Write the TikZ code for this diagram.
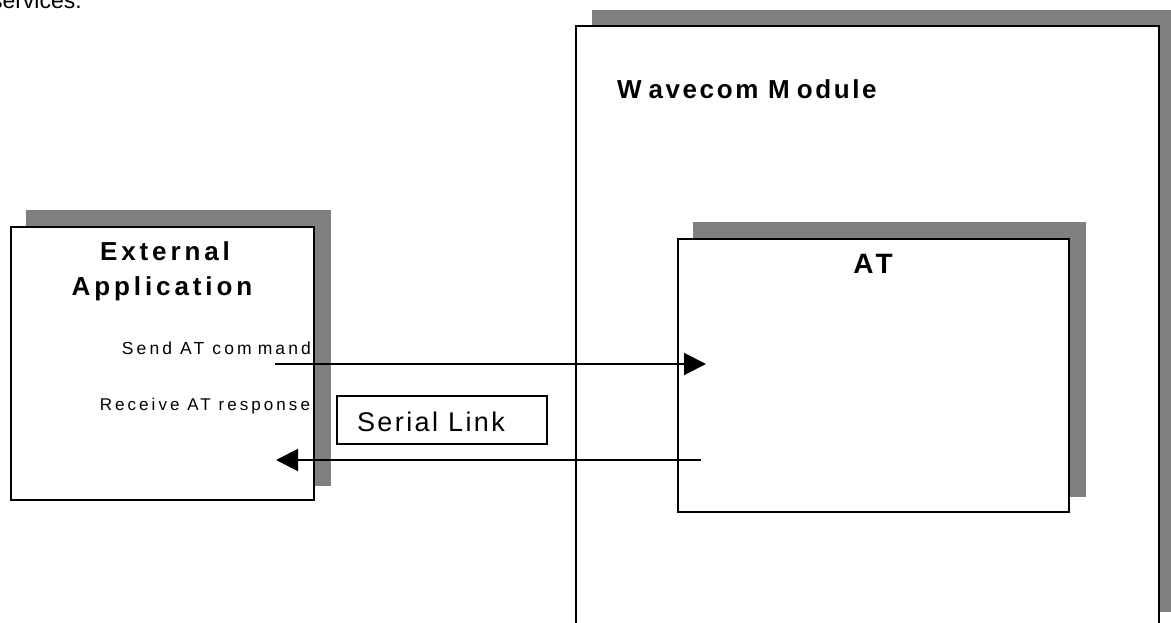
\documentclass[tikz,border=0pt]{standalone}
\usepackage{fontspec}
\setmainfont{Liberation Sans}
\newfontfamily\spbold{Liberation Sans}[LetterSpace=15]
\newfontfamily\spboldb{Liberation Sans}[LetterSpace=10]
\newfontfamily\spreg{Liberation Sans}[LetterSpace=18]
\newfontfamily\spser{Liberation Sans}[LetterSpace=9]
\usetikzlibrary{arrows.meta}
\definecolor{shadowgray}{RGB}{128,128,128}
\begin{document}
\begin{tikzpicture}[x=1pt,y=-1pt,
  shadowbox/.style={fill=shadowgray, draw=none, inner sep=0pt, outer sep=0pt, anchor=center},
  mainbox/.style={fill=white, draw=black, line width=2pt, inner sep=0pt, outer sep=0pt, anchor=center},
  linkbox/.style={fill=white, draw=black, line width=1.5pt, inner sep=0pt, outer sep=0pt, anchor=center},
  conn/.style={line width=2pt, -{Triangle[length=22pt,width=22pt]}},
  lbl/.style={inner sep=0pt, outer sep=0pt},
  titletext/.style={lbl, font=\spbold\bfseries\fontsize{26}{30}\selectfont},
  smalltext/.style={lbl, font=\spreg\fontsize{17}{20}\selectfont},
]
\useasboundingbox (0,0) rectangle (1171,622);
\clip (0,0) rectangle (1171,622);
\fill[white] (0,0) rectangle (1171,622);

% cut-off text at the top
\node[lbl, anchor=base west, font=\fontsize{23}{27}\selectfont] (prev) at (-9,8) {services.};

% Wavecom module
\node[shadowbox, minimum width=583pt, minimum height=602pt] (wmshadow) at (883.5,311) {};
\node[mainbox, minimum width=583pt, minimum height=602pt] (wm) at (867.5,327) {};
\node[lbl, anchor=base west, font=\spboldb\bfseries\fontsize{26}{30}\selectfont] (wmtext) at (617,98) {W\kern7pt avecom M\kern7pt odule};

% AT box
\node[shadowbox, minimum width=393pt, minimum height=275pt] (atshadow) at (889.5,359.5) {};
\node[mainbox, minimum width=391pt, minimum height=273pt] (at) at (873.5,375.5) {};
\node[lbl, anchor=base, font=\spbold\bfseries\fontsize{28}{32}\selectfont] (attext) at (873,273) {AT};

% External application
\node[shadowbox, minimum width=305pt, minimum height=276pt] (extshadow) at (178,348) {};
\node[mainbox, minimum width=303pt, minimum height=273pt] (ext) at (162.5,363.5) {};
\node[titletext, anchor=base] (ext1) at (165,260) {External};
\node[titletext, anchor=base] (ext2) at (162,295) {Application};
\node[lbl, anchor=base east, font=\spreg\fontsize{17.5}{20}\selectfont] (send) at (311,354) {Send AT com\kern6pt mand};
\node[smalltext, anchor=base east] (recv) at (310,410) {Receive AT response};

% Serial link
\node[linkbox, minimum width=210pt, minimum height=48pt] (link) at (442,420) {};
\node[lbl, anchor=base west, font=\spser\fontsize{27}{31}\selectfont] (linktext) at (357,431) {Serial Link};

% connectors
\coordinate (s1) at (275,364);
\coordinate (e1) at (706,364);
\coordinate (s2) at (701,460);
\coordinate (e2) at (276,460);
\draw[conn] (s1) -- (e1);
\draw[conn] (s2) -- (e2);
\end{tikzpicture}
\end{document}
